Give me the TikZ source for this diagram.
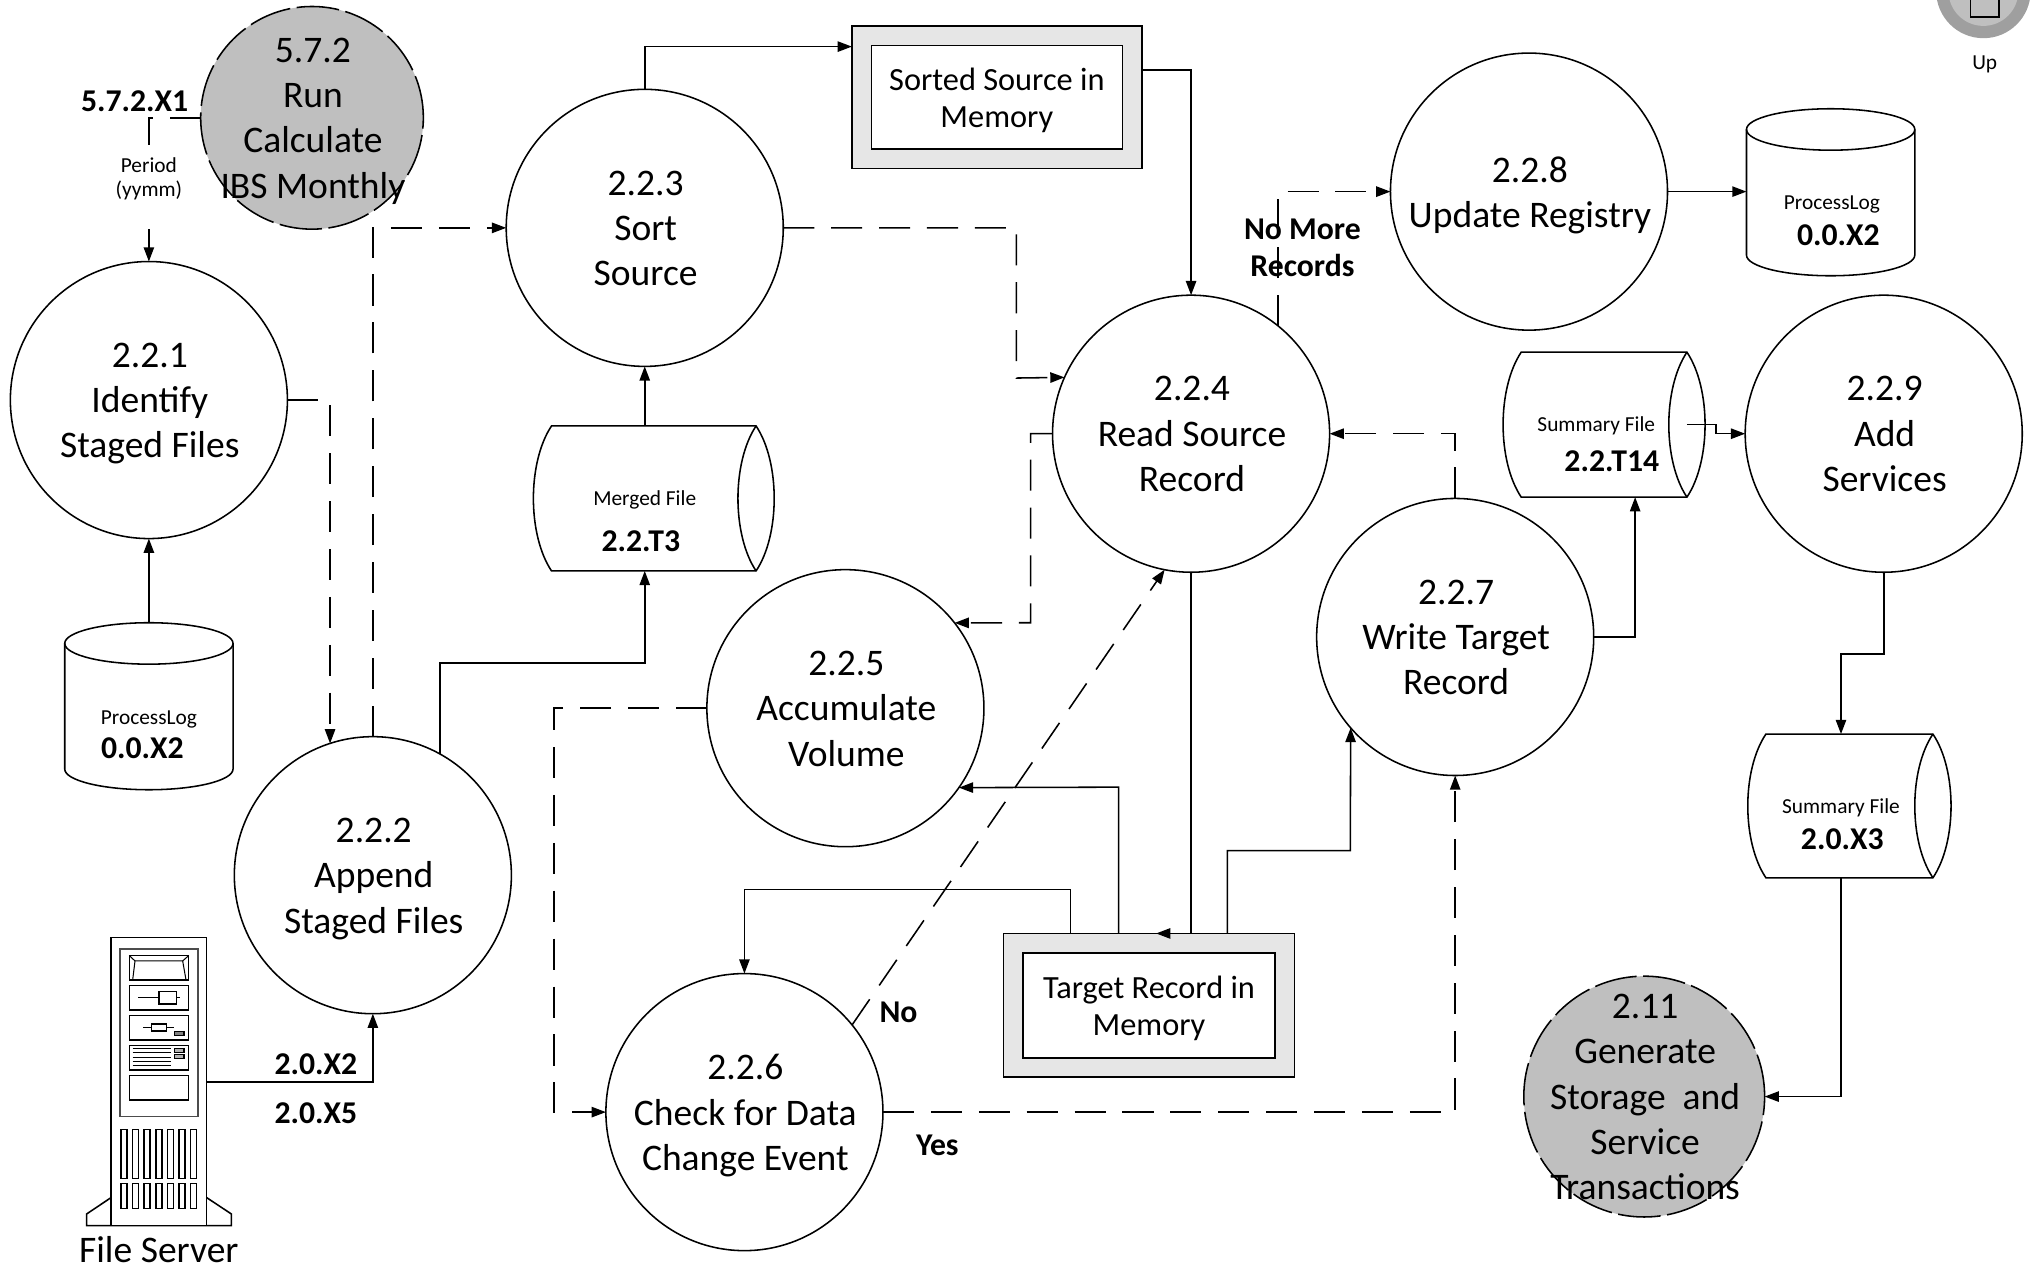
\documentclass[tikz,border=0pt]{standalone}
\usepackage{fontspec}
\setmainfont{Carlito}
\usetikzlibrary{arrows.meta,calc}
\definecolor{grayfill}{HTML}{BFBFBF}
\definecolor{storefill}{HTML}{E6E6E6}
\newcommand{\fsbig}{\fontsize{29}{35}\selectfont}
\newcommand{\fsbold}{\fontsize{24.5}{29}\selectfont\bfseries}
\newcommand{\fssmall}{\fontsize{16.5}{19}\selectfont}
\tikzset{
  line/.style={line width=1.2pt,draw=black},
  flow/.style={line,-{Triangle[length=11pt,width=8pt]}},
  dflow/.style={flow,dash pattern=on 24pt off 13pt},
  proc/.style={circle,draw=black,line width=1.2pt,fill=white,inner sep=0pt,outer sep=0pt,minimum size=214pt},
  ext/.style={circle,draw=black,line width=1.2pt,fill=grayfill,inner sep=0pt,outer sep=0pt,dash pattern=on 33pt off 5pt},
  ctext/.style={font=\fsbig,align=center,inner sep=0pt,xshift=0.7pt,yshift=-5.5pt,execute at begin node=\strut,execute at end node=\strut},
  memtext/.style={font=\fontsize{25}{29}\selectfont,align=center,inner sep=0pt,yshift=-2.5pt},
  boldlab/.style={font=\fsbold,align=center,inner sep=0pt},
  smalllab/.style={font=\fssmall,align=center,inner sep=0pt},
  anchorbox/.style={inner sep=0pt,outer sep=0pt},
  srvthick/.style={line width=1.2pt,draw=black,fill=white},
}
\newcommand{\hstore}[8]{% name, xL, cornerL, cornerR, xR, xIn, yT, yB
  \pgfmathsetmacro{\ca}{#3-(#3-#2)/0.75}
  \pgfmathsetmacro{\cb}{#4+(#5-#4)/0.75}
  \pgfmathsetmacro{\cc}{#4-(#4-#6)/0.75}
  \pgfmathsetmacro{\ya}{#7+(#8-#7)/4}
  \pgfmathsetmacro{\yb}{#8-(#8-#7)/4}
  \draw[line,fill=white] (#3,#7) -- (#4,#7) .. controls (\cb,\ya) and (\cb,\yb) .. (#4,#8) -- (#3,#8) .. controls (\ca,\yb) and (\ca,\ya) .. (#3,#7) -- cycle;
  \draw[line] (#4,#7) .. controls (\cc,\ya) and (\cc,\yb) .. (#4,#8);
  \path ({(#2+#5)/2},{(#7+#8)/2}) node[anchorbox,minimum width={(#5-#2)*1pt},minimum height={(#8-#7)*1pt}] (#1) {};
}
\newcommand{\vstore}[5]{% name, xL, xR, yT, yB
  \pgfmathsetmacro{\cxx}{(#2+#3)/2}
  \pgfmathsetmacro{\rxx}{(#3-#2)/2}
  \draw[line,fill=white] (#2,#4+16) -- (#2,#5-16) arc[start angle=180,end angle=360,x radius=\rxx,y radius=-16] -- (#3,#4+16) arc[start angle=0,end angle=180,x radius=\rxx,y radius=-16] -- cycle;
  \draw[line] (#2,#4+16) arc[start angle=180,end angle=360,x radius=\rxx,y radius=-16];
  \path (\cxx,{(#4+#5)/2}) node[anchorbox,minimum width={(#3-#2)*1pt},minimum height={(#5-#4)*1pt}] (#1) {};
}
\newcommand{\memstore}[6]{% name x0 y0 x1 y1 text
  \path ({(#2+#4)/2},{(#3+#5)/2}) node[anchorbox,draw=black,line width=1.2pt,fill=storefill,minimum width={(#4-#2)*1pt},minimum height={(#5-#3)*1pt}] (#1) {};
  \node[anchorbox,draw=black,line width=1.2pt,fill=white,minimum width={(#4-#2-30)*1pt},minimum height={(#5-#3-30)*1pt},label={[memtext]center:{#6}}] at (#1.center) {};
}
\begin{document}
\begin{tikzpicture}[x=1pt,y=-1pt]
\useasboundingbox (0,0) rectangle (1568,980.2);
% Up icon
\fill[gray!75] (1532,-7) circle[radius=36.5];
\fill[gray!50] (1532,-7) circle[radius=27];
\draw[line] (1522,-10) rectangle (1544,13);
\node[smalllab] (uplab) at (1533,50) {\strut Up};

% Circles
\node[proc,label={[ctext]center:{2.2.1\\Identify\\Staged Files}}] (c221) at (115,309) {};
\node[proc,label={[ctext]center:{2.2.2\\Append\\Staged Files}}] (c222) at (288,676) {};
\node[proc,label={[ctext]center:{2.2.3\\Sort\\Source}}] (c223) at (498,176) {};
\node[proc,label={[ctext]center:{2.2.4\\Read Source\\Record}}] (c224) at (920,335) {};
\node[proc,label={[ctext]center:{2.2.5\\Accumulate\\Volume}}] (c225) at (653,547) {};
\node[proc,label={[ctext]center:{2.2.6\\Check for Data\\Change Event}}] (c226) at (575,859) {};
\node[proc,label={[ctext]center:{2.2.7\\Write Target\\Record}}] (c227) at (1124,492) {};
\node[proc,label={[ctext]center:{2.2.8\\Update Registry}}] (c228) at (1181,148) {};
\node[proc,label={[ctext]center:{2.2.9\\Add\\Services}}] (c229) at (1455,335) {};
\node[ext,minimum size=172pt,label={[ctext]center:{5.7.2\\Run\\Calculate\\IBS Monthly}}] (c572) at (241,91) {};
\node[ext,minimum size=186pt,label={[ctext]center:{2.11\\Generate\\Storage~ and\\Service\\Transactions}}] (c211) at (1270,847) {};

% Stores
\hstore{mf}{412}{426}{584}{598}{570}{329}{441}
\hstore{s14}{1161}{1175}{1303}{1317}{1289}{272}{384}
\hstore{sx3}{1350}{1364}{1493}{1507}{1479}{567}{678}
\vstore{pl1}{50}{180}{481}{610}
\vstore{pl2}{1349}{1479}{84}{213}
\memstore{ss}{658}{20}{882}{130}{Sorted Source in\\Memory}
\memstore{tr}{775}{721}{1000}{832}{Target Record in\\Memory}

% File server
\path (123,835.7) node[anchorbox,minimum width=74pt,minimum height=222.5pt] (srv) {};
\begin{scope}[shift={(46.34pt,-695.1pt)},x=0.2575pt,y=-0.2575pt]
  \draw[srvthick] (153,893) -- (80,942) -- (80,977) -- (514,977) -- (514,942) -- (440,893);
  \draw[srvthick] (153,113) rectangle (440,977);
  \draw[line width=0.9pt,draw=black!70] (180,147) rectangle (414,650);
  \foreach \y in {167,257,347,437,527} \draw[line] (208,\y) rectangle (386,\y+73);
  \draw[line width=0.8pt] (208,167) -- (225,183) -- (368,183) -- (386,167);
  \draw[line width=0.8pt] (225,183) -- (218,240) (368,183) -- (378,240);
  \draw[line] (235,293) -- (360,293);
  \draw[line,fill=white] (297,275) rectangle (350,312);
  \draw[line] (250,383) -- (342,383);
  \draw[line,fill=white] (275,373) rectangle (320,393);
  \draw[line width=0.8pt,fill=gray] (343,396) rectangle (372,408);
  \foreach \y in {445,458,472,486,498} \draw[line width=0.8pt] (218,\y) -- (333,\y);
  \foreach \y in {447,465} \draw[line width=0.8pt,fill=gray!60] (343,\y) rectangle (372,\y+10);
  \foreach \i in {0,...,6} {
    \draw[line] ({183+\i*34.8},688) rectangle ({201+\i*34.8},835);
    \draw[line] ({183+\i*34.8},850) rectangle ({201+\i*34.8},925);
  }
\end{scope}

% Bend coordinates
\coordinate (b1) at (498,512);
\coordinate (b2) at (785,292);
\coordinate (b3) at (796,481);
\coordinate (b5) at (1422,505);
\coordinate (b6) at (1043,657);
\coordinate (b7) at (864,608);
\coordinate (b8) at (575,687);
\coordinate (b9) at (428,859);

% Connectors
\draw[flow,dash pattern=on 24pt off 13pt on 24pt off 13pt on 24pt off 13pt on 40pt] (c572.west) -| (c221.north);
\draw[dflow] (c221.east) -| (c222.108.6);
\draw[dflow] (c222.north) |- (c223.west);
\draw[flow] (c222.61) |- (b1) -- (b1 |- mf.south);
\draw[flow] (b1 |- mf.north) -- (c223.south);
\draw[flow] (c223.north) |- ($(ss.north west)+(0,16)$);
\draw[flow] ($(ss.north east)+(0,34)$) -| (c224.north);
\draw[dflow] (c223.east) -| (b2) -- (c224.156);
\draw[dflow] (c224.west) -| (b3) -- (c225.38);
\draw[dflow] (c224.51) |- (c228.west);
\draw[dflow] (c227.north) |- (c224.east);
\draw[flow] (c227.east) -| ($(s14.south)+(24,0)$);
\draw[flow] ($(s14.center)+(64,0)$) -- ++(22.6,0) |- (c229.west);
\draw[flow] (c228.east) -- (pl2.west |- c228.east);
\draw[flow] (c229.south) |- (b5) -- (b5 |- sx3.north);
\draw[flow] (b5 |- sx3.south) |- (c211.east);
\draw[flow] (c224.south) -- (c224.south |- tr.north) -- ++(-27,0);
\draw[flow] ($(tr.north)+(60.5,0)$) |- (b6) -- (c227.221);
\draw[flow] ($(tr.north)+(-23.5,0)$) -- (b7) -- (c225.-35.7);
\draw[flow] ($(tr.north)+(-60.5,0)$) |- (b8) -- (c226.north);
\draw[dflow] (c225.west) -| (b9) -- (c226.west);
\draw[dflow] (c226.east) -| (c227.south);
\draw[dflow] (c226.39.3) -- (c224.259);
\draw[flow] (pl1.north) -- (c221.south);
\draw[flow] (srv.east) -| (c222.south);

% Labels
\fill[white] (85,112) rectangle (145,177);
\node[smalllab] (period) at (115,138) {Period\\(yymm)};
\node[boldlab] (lx1) at (104,78) {5.7.2.X1};
\node[boldlab] (lnm) at (1006,191.5) {No More\\Records};
\node[boldlab] (lx2) at (244,822) {2.0.X2};
\node[boldlab] (lx5) at (244,860) {2.0.X5};
\node[boldlab] (lno) at (694,782) {No};
\node[boldlab] (lyes) at (724,885) {Yes};
\node[smalllab] (t1) at (115,556) {ProcessLog};
\node[boldlab] (t2) at (110,578) {0.0.X2};
\node[smalllab] (t3) at (1415,158) {ProcessLog};
\node[boldlab] (t4) at (1420,182) {0.0.X2};
\node[smalllab] (t5) at (498,386) {Merged File};
\node[boldlab] (t6) at (495,418) {2.2.T3};
\node[smalllab] (t7) at (1233,329) {Summary File};
\node[boldlab] (t8) at (1245,356) {2.2.T14};
\node[smalllab] (t9) at (1422,624) {Summary File};
\node[boldlab] (t10) at (1423,648) {2.0.X3};
\node[ctext,font=\fontsize{29}{34}\selectfont] (fs) at (122,963) {File Server};
\end{tikzpicture}
\end{document}
